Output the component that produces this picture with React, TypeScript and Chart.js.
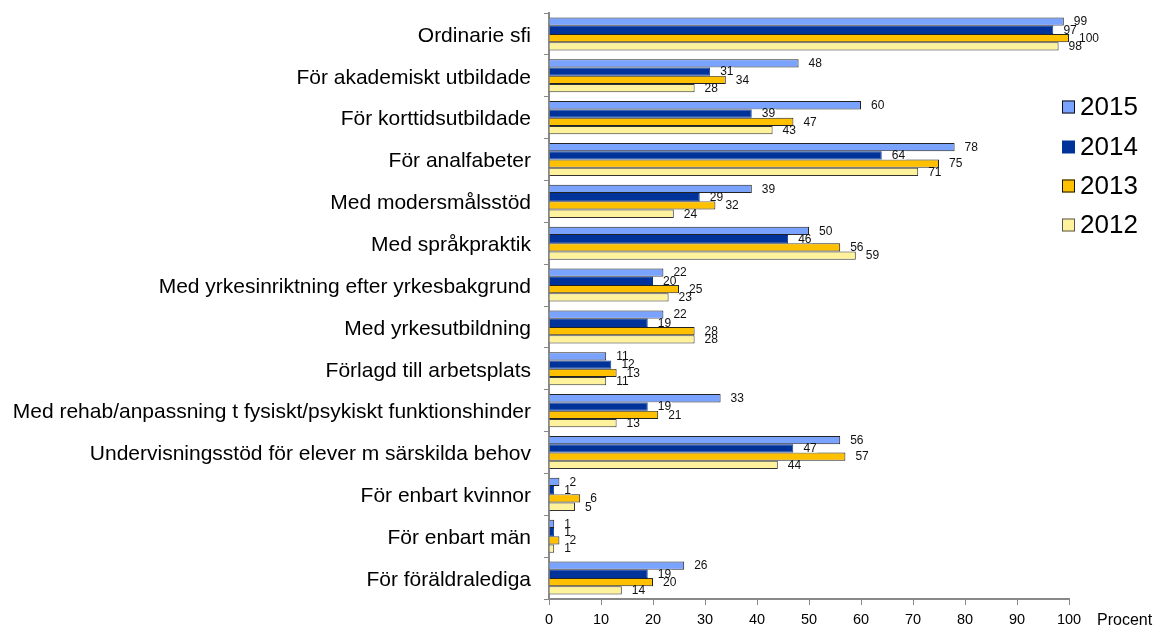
import React, { useEffect, useRef } from "react";
import { Chart, registerables } from "chart.js";

Chart.register(...registerables);

const categories = [
  "Ordinarie sfi",
  "För akademiskt utbildade",
  "För korttidsutbildade",
  "För analfabeter",
  "Med modersmålsstöd",
  "Med språkpraktik",
  "Med yrkesinriktning efter yrkesbakgrund",
  "Med yrkesutbildning",
  "Förlagd till arbetsplats",
  "Med rehab/anpassning t fysiskt/psykiskt funktionshinder",
  "Undervisningsstöd för elever m särskilda behov",
  "För enbart kvinnor",
  "För enbart män",
  "För föräldralediga",
];

const values2015 = [99, 48, 60, 78, 39, 50, 22, 22, 11, 33, 56, 2, 1, 26];
const values2014 = [97, 31, 39, 64, 29, 46, 20, 19, 12, 19, 47, 1, 1, 19];
const values2013 = [100, 34, 47, 75, 32, 56, 25, 28, 13, 21, 57, 6, 2, 20];
const values2012 = [98, 28, 43, 71, 24, 59, 23, 28, 11, 13, 44, 5, 1, 14];

const seriesNames = ["2015", "2014", "2013", "2012"];
const xTicks = [0, 10, 20, 30, 40, 50, 60, 70, 80, 90, 100];
const axisTitle = "Procent";

const FONT = "'Liberation Sans', Arial, sans-serif";
const fills = ["#7aa3ff", "#003399", "#ffc000", "#fff29c"];
const borders = ["#222222", "#003399", "#222222", "#333333"];

const labelPlugin = {
  id: "valueLabels",
  afterDatasetsDraw(chart: any) {
    const ctx = chart.ctx;
    ctx.save();
    ctx.font = `12px ${FONT}`;
    ctx.textBaseline = "middle";
    ctx.textAlign = "left";
    chart.data.datasets.forEach((ds: any, di: number) => {
      const meta = chart.getDatasetMeta(di);
      meta.data.forEach((el: any, i: number) => {
        const txt = String(ds.data[i]);
        const tx = el.x + 10;
        const w = ctx.measureText(txt).width;
        if (di === 1) {
          ctx.fillStyle = "#ffffff";
          ctx.fillRect(el.x, el.y - el.height / 2, tx + w + 1 - el.x, el.height);
        }
        ctx.fillStyle = "#111111";
        ctx.fillText(txt, tx, el.y + 0.5);
      });
    });
    ctx.restore();
  },
};

const legendPlugin = {
  id: "customLegend",
  afterDraw(chart: any) {
    const ctx = chart.ctx;
    ctx.save();
    const ys = [107, 147, 186, 225];
    ctx.font = `26px ${FONT}`;
    ctx.textBaseline = "middle";
    ctx.textAlign = "left";
    seriesNames.forEach((n, i) => {
      const y = ys[i];
      ctx.fillStyle = fills[i];
      ctx.fillRect(1062, y - 6.5, 13, 13);
      if (i !== 1) {
        ctx.strokeStyle = i === 3 ? "#555555" : "#111111";
        ctx.lineWidth = 1;
        ctx.strokeRect(1062.5, y - 6, 12, 12);
      }
      ctx.fillStyle = "#000000";
      ctx.fillText(n, 1080, y + 1);
    });
    ctx.font = `16px ${FONT}`;
    ctx.fillStyle = "#000000";
    ctx.textBaseline = "middle";
    ctx.fillText(axisTitle, 1097, 621);
    ctx.restore();
  },
};

export default function App() {
  const ref = useRef<HTMLCanvasElement | null>(null);
  useEffect(() => {
    if (!ref.current) return;
    const datasets = [values2015, values2014, values2013, values2012].map((d, i) => ({
      label: seriesNames[i],
      data: d,
      backgroundColor: fills[i],
      borderColor: borders[i],
      borderWidth: 1,
      categoryPercentage: 0.79,
      barPercentage: 1.0,
    }));
    const chart = new Chart(ref.current, {
      type: "bar",
      data: { labels: categories, datasets },
      options: {
        indexAxis: "y",
        responsive: false,
        animation: false,
        maintainAspectRatio: false,
        layout: { padding: { top: 13, right: 88, left: 0, bottom: 0 } },
        plugins: {
          legend: { display: false },
          tooltip: { enabled: false },
        },
        scales: {
          x: {
            min: 0,
            max: 100,
            afterBuildTicks: (scale: any) => {
              scale.ticks = xTicks.map((v) => ({ value: v }));
            },
            afterFit: (scale: any) => {
              scale.height = 29;
              scale.paddingLeft = 0;
              scale.paddingRight = 0;
            },
            grid: {
              drawOnChartArea: false,
              drawTicks: true,
              tickLength: 6,
              color: "#888888",
              lineWidth: 1,
            },
            border: { display: true, color: "#888888", width: 2 },
            ticks: {
              font: { family: FONT, size: 14.5 },
              color: "#000000",
              padding: 6,
              maxRotation: 0,
            },
          },
          y: {
            afterFit: (scale: any) => {
              scale.width = 549;
              scale.paddingTop = 0;
              scale.paddingBottom = 0;
            },
            grid: {
              drawOnChartArea: false,
              drawTicks: true,
              tickLength: 5,
              color: "#888888",
              offset: true,
            },
            border: { display: true, color: "#888888", width: 2 },
            ticks: {
              font: { family: FONT, size: 21 },
              color: "#000000",
              padding: 13,
              labelOffset: 2,
              autoSkip: false,
            },
          },
        },
      },
      plugins: [labelPlugin, legendPlugin],
    });
    return () => chart.destroy();
  }, []);
  return (
    <div style={{ position: "absolute", left: 0, top: 0, width: 1157, height: 628, background: "#fff" }}>
      <canvas ref={ref} width={1157} height={628} style={{ width: 1157, height: 628 }} />
    </div>
  );
}
